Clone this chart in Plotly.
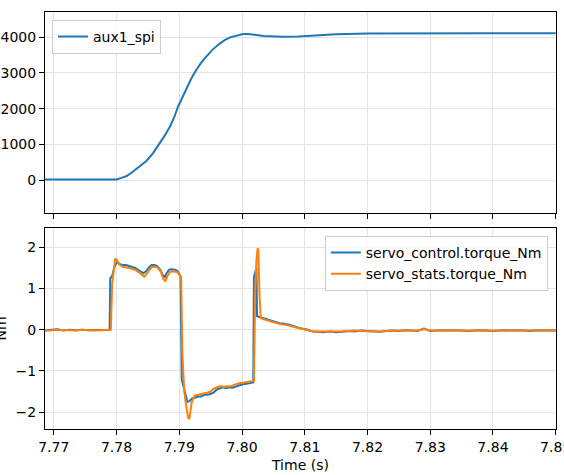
import plotly.graph_objects as go
from plotly.subplots import make_subplots

# ---- data ----
t_aux = [7.7686, 7.7720, 7.7760, 7.7790, 7.7800, 7.7808, 7.7816, 7.7826, 7.7837, 7.7848,
         7.7858, 7.7869, 7.7877, 7.7885, 7.7892, 7.7898, 7.7905, 7.7911, 7.7919, 7.7927,
         7.7935, 7.7943, 7.7954, 7.7965, 7.7973, 7.7981, 7.7992, 7.8002, 7.8010, 7.8018,
         7.8026, 7.8034, 7.8050, 7.8066, 7.8090, 7.8120, 7.8150, 7.8200, 7.8250, 7.8300,
         7.8400, 7.8500]
aux1_spi = [12, 14, 12, 10, 15, 60, 112, 230, 373, 540,
            747, 1028, 1250, 1494, 1760, 2055, 2330, 2570, 2840, 3084,
            3290, 3458, 3670, 3832, 3930, 4000, 4060, 4093, 4095, 4084,
            4055, 4037, 4025, 4018, 4025, 4060, 4085, 4105, 4110, 4112,
            4112, 4112]

t_ctrl = [7.7686, 7.7695, 7.7705, 7.7715, 7.7725, 7.7735, 7.7745, 7.7755, 7.7765, 7.7775,
          7.7785, 7.7789, 7.7790, 7.7793, 7.7797, 7.7801, 7.7805, 7.7810, 7.7815, 7.7820,
          7.7825, 7.7830, 7.7835, 7.7840, 7.7843, 7.7847, 7.7852, 7.7856, 7.7861, 7.7865,
          7.7870, 7.7874, 7.7877, 7.7880, 7.7884, 7.7888, 7.7893, 7.7897, 7.7900, 7.7902,
          7.7904, 7.7907, 7.7910, 7.7913, 7.7916, 7.7920, 7.7925, 7.7930, 7.7935, 7.7940,
          7.7945, 7.7950, 7.7955, 7.7960, 7.7965, 7.7970, 7.7975, 7.7980, 7.7985, 7.7990,
          7.7995, 7.8000, 7.8005, 7.8010, 7.8015, 7.8018, 7.8019, 7.8021, 7.8023, 7.8024,
          7.8026, 7.8030, 7.8036, 7.8040, 7.8045, 7.8050, 7.8055, 7.8060, 7.8065, 7.8070,
          7.8075, 7.8080, 7.8085, 7.8090, 7.8095, 7.8100, 7.8105, 7.8110, 7.8115, 7.8120,
          7.8130, 7.8140, 7.8150, 7.8160, 7.8170, 7.8180, 7.8190, 7.8200, 7.8210, 7.8220,
          7.8230, 7.8240, 7.8250, 7.8260, 7.8270, 7.8280, 7.8290, 7.8300, 7.8310, 7.8320,
          7.8330, 7.8340, 7.8350, 7.8360, 7.8370, 7.8380, 7.8390, 7.8400, 7.8410, 7.8420,
          7.8430, 7.8440, 7.8450, 7.8460, 7.8470, 7.8480, 7.8490, 7.8500]
torque_ctrl = [-0.02, -0.01, 0.01, -0.02, 0.00, -0.01, 0.00, -0.01, -0.01, 0.00,
               -0.01, 0.00, 1.25, 1.30, 1.55, 1.64, 1.60, 1.57, 1.57, 1.55,
               1.53, 1.50, 1.45, 1.39, 1.37, 1.42, 1.52, 1.57, 1.57, 1.54,
               1.45, 1.32, 1.28, 1.38, 1.46, 1.47, 1.46, 1.43, 1.37, 1.30,
               -1.22, -1.40, -1.62, -1.75, -1.74, -1.67, -1.65, -1.62, -1.62, -1.58,
               -1.58, -1.56, -1.52, -1.45, -1.42, -1.40, -1.42, -1.40, -1.41, -1.38,
               -1.36, -1.33, -1.32, -1.30, -1.29, -1.28, 1.28, 1.40, 1.50, 0.33,
               0.32, 0.30, 0.27, 0.25, 0.23, 0.21, 0.18, 0.16, 0.15, 0.14,
               0.12, 0.10, 0.07, 0.05, 0.03, 0.02, 0.00, -0.03, -0.05, -0.05,
               -0.06, -0.04, -0.06, -0.05, -0.03, -0.04, -0.02, -0.03, -0.04, -0.05,
               -0.03, -0.02, -0.03, -0.01, -0.02, -0.03, 0.03, -0.03, -0.02, -0.01,
               -0.02, -0.01, -0.02, -0.03, -0.02, -0.01, -0.02, -0.03, -0.02, -0.01,
               -0.02, -0.01, -0.02, -0.03, -0.01, -0.02, -0.01, -0.02]

t_stats = [7.7686, 7.7695, 7.7705, 7.7715, 7.7725, 7.7735, 7.7745, 7.7755, 7.7765, 7.7775,
           7.7785, 7.7791, 7.7793, 7.7796, 7.7798, 7.7801, 7.7805, 7.7810, 7.7815, 7.7820,
           7.7825, 7.7830, 7.7835, 7.7840, 7.7844, 7.7848, 7.7853, 7.7857, 7.7862, 7.7866,
           7.7871, 7.7875, 7.7878, 7.7881, 7.7885, 7.7889, 7.7894, 7.7898, 7.7901, 7.7903,
           7.7905, 7.7908, 7.7911, 7.7914, 7.7916, 7.7918, 7.7920, 7.7925, 7.7930, 7.7935,
           7.7940, 7.7945, 7.7950, 7.7955, 7.7960, 7.7965, 7.7970, 7.7975, 7.7980, 7.7985,
           7.7990, 7.7995, 7.8000, 7.8005, 7.8010, 7.8015, 7.8019, 7.8021, 7.8023, 7.8025,
           7.8026, 7.8028, 7.8030, 7.8036, 7.8040, 7.8045, 7.8050, 7.8055, 7.8060, 7.8065,
           7.8070, 7.8075, 7.8080, 7.8085, 7.8090, 7.8095, 7.8100, 7.8105, 7.8110, 7.8115,
           7.8120, 7.8130, 7.8140, 7.8150, 7.8160, 7.8170, 7.8180, 7.8190, 7.8200, 7.8210,
           7.8220, 7.8230, 7.8240, 7.8250, 7.8260, 7.8270, 7.8280, 7.8290, 7.8300, 7.8310,
           7.8320, 7.8330, 7.8340, 7.8350, 7.8360, 7.8370, 7.8380, 7.8390, 7.8400, 7.8410,
           7.8420, 7.8430, 7.8440, 7.8450, 7.8460, 7.8470, 7.8480, 7.8490, 7.8500]
torque_stats = [-0.01, -0.02, 0.00, -0.01, -0.01, -0.02, 0.00, -0.01, -0.02, -0.01,
                -0.01, 0.00, 1.10, 1.55, 1.73, 1.68, 1.57, 1.53, 1.52, 1.50,
                1.48, 1.45, 1.40, 1.33, 1.29, 1.35, 1.47, 1.53, 1.53, 1.50,
                1.40, 1.22, 1.18, 1.30, 1.40, 1.42, 1.41, 1.38, 1.32, 1.26,
                -0.60, -1.50, -1.85, -2.12, -2.17, -2.00, -1.75, -1.60, -1.58, -1.55,
                -1.54, -1.53, -1.50, -1.43, -1.39, -1.37, -1.39, -1.37, -1.38, -1.35,
                -1.33, -1.30, -1.29, -1.27, -1.26, -1.25, -1.24, 0.90, 1.70, 1.98,
                1.95, 0.80, 0.28, 0.25, 0.23, 0.21, 0.19, 0.16, 0.14, 0.13,
                0.12, 0.10, 0.08, 0.06, 0.04, 0.02, 0.01, -0.01, -0.03, -0.04,
                -0.04, -0.05, -0.04, -0.05, -0.04, -0.03, -0.02, -0.03, -0.04, -0.04,
                -0.05, -0.03, -0.02, -0.02, -0.01, -0.02, -0.02, 0.02, -0.02, -0.01,
                -0.02, -0.02, -0.01, -0.02, -0.02, -0.02, -0.01, -0.02, -0.02, -0.01,
                -0.02, -0.01, -0.01, -0.02, -0.02, -0.01, -0.02, -0.01, -0.01]

x_ticks = [7.77, 7.78, 7.79, 7.80, 7.81, 7.82, 7.83, 7.84, 7.85]
x_tick_labels = ["7.77", "7.78", "7.79", "7.80", "7.81", "7.82", "7.83", "7.84", "7.85"]
top_y_ticks = [0, 1000, 2000, 3000, 4000]
bot_y_ticks = [-2, -1, 0, 1, 2]

BLUE = "#1f77b4"
ORANGE = "#ff7f0e"
FONT = "DejaVu Sans"

fig = make_subplots(rows=2, cols=1, shared_xaxes=False, vertical_spacing=0.036)

fig.add_trace(go.Scatter(x=t_aux, y=aux1_spi, mode="lines", name="aux1_spi",
                         line=dict(color=BLUE, width=2), legend="legend"), row=1, col=1)
fig.add_trace(go.Scatter(x=t_ctrl, y=torque_ctrl, mode="lines", name="servo_control.torque_Nm",
                         line=dict(color=BLUE, width=2), legend="legend2"), row=2, col=1)
fig.add_trace(go.Scatter(x=t_stats, y=torque_stats, mode="lines", name="servo_stats.torque_Nm",
                         line=dict(color=ORANGE, width=2), legend="legend2"), row=2, col=1)

axis_common = dict(showline=True, linecolor="black", linewidth=1, mirror=True,
                   ticks="outside", ticklen=5, tickwidth=1, tickcolor="black",
                   showgrid=True, gridcolor="#e3e3e3", gridwidth=1, zeroline=False,
                   automargin=False,
                   tickfont=dict(family=FONT, size=14, color="black"))

xr = [7.7686, 7.85005]
fig.update_xaxes(range=xr, tickvals=x_ticks, ticktext=x_tick_labels,
                 ticklabeloverflow="allow", **axis_common)
fig.update_xaxes(showticklabels=False, row=1, col=1)
fig.update_yaxes(**axis_common)
fig.update_yaxes(range=[-925, 4710], tickvals=top_y_ticks, row=1, col=1)
fig.update_yaxes(range=[-2.41, 2.47], tickvals=bot_y_ticks,
                 ticktext=["\u22122", "\u22121", "0", "1", "2"], row=2, col=1)

fig.update_layout(
    width=564, height=475,
    margin=dict(l=45, r=8, t=12, b=46, autoexpand=False),
    paper_bgcolor="white", plot_bgcolor="white",
    font=dict(family=FONT, size=14, color="black"),
    yaxis=dict(domain=[0.518, 1.0]),
    yaxis2=dict(domain=[0.0, 0.482]),
    legend=dict(x=0.0137, y=0.981, xanchor="left", yanchor="top",
                bgcolor="rgba(255,255,255,0.8)", bordercolor="#cccccc", borderwidth=1,
                font=dict(family=FONT, size=14), itemwidth=30, tracegroupgap=0),
    legend2=dict(x=0.984, y=0.463, xanchor="right", yanchor="top",
                 bgcolor="rgba(255,255,255,0.8)", bordercolor="#cccccc", borderwidth=1,
                 font=dict(family=FONT, size=14), itemwidth=30, tracegroupgap=0),
    showlegend=True,
    annotations=[
        dict(text="Time (s)", xref="paper", yref="paper", x=(300 - 45) / 511, y=-0.0863,
             xanchor="center", yanchor="middle", showarrow=False,
             font=dict(family=FONT, size=14, color="black")),
        dict(text="Nm", xref="paper", yref="paper", x=(1 - 45) / 511, y=0.241,
             xanchor="center", yanchor="middle", textangle=-90, showarrow=False,
             font=dict(family=FONT, size=14, color="black")),
    ],
)

fig.write_html("out.html", config={"displayModeBar": False},
               post_script="document.body.style.margin='0';document.body.style.overflow='hidden';")
